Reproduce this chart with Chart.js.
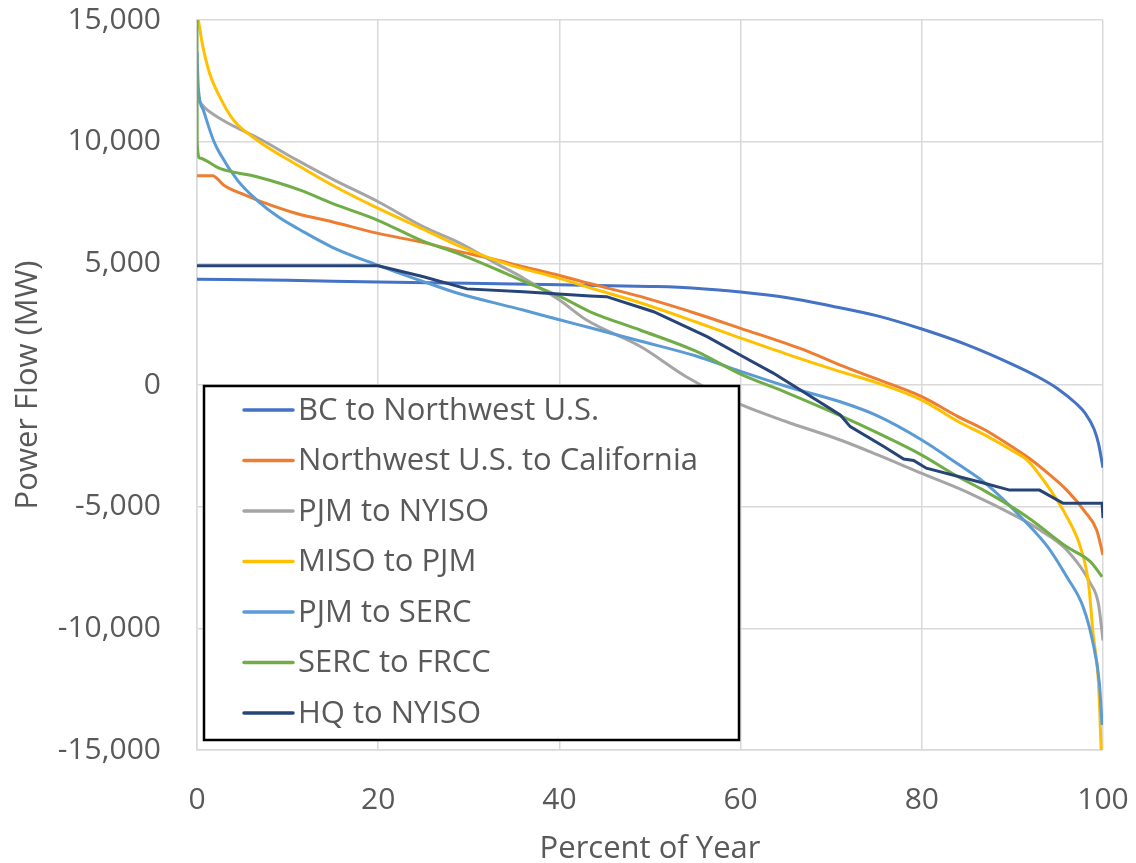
<!DOCTYPE html>
<html>
<head>
  <title>Interregional Power Flow Duration Curves</title>
  <script src="https://cdn.jsdelivr.net/npm/chart.js"></script>
  <style>
    body { margin: 0; background: #fff; }
    canvas { display: block; }
  </style>
</head>
<body>
  <canvas id="flowChart" width="1136" height="863"></canvas>

  <script>
    // Axis ticks
    const xTicks = [0, 20, 40, 60, 80, 100];
    const yTicks = [-15000, -10000, -5000, 0, 5000, 10000, 15000];

    // Series names and colours (legend order)
    const seriesNames = ['BC to Northwest U.S.', 'Northwest U.S. to California', 'PJM to NYISO',
      'MISO to PJM', 'PJM to SERC', 'SERC to FRCC', 'HQ to NYISO'];
    const seriesColors = ['#4472C4', '#ED7D31', '#A5A5A5', '#FFC000', '#5B9BD5', '#70AD47', '#264478'];

    // Duration curves: x = percent of year, y = power flow (MW)
    const bcX = [0, 10, 20, 30, 40, 50, 55, 60, 65, 70, 75, 80, 85, 90, 93, 95, 97, 98, 99, 99.5, 100];
    const bcY = [4350, 4300, 4230, 4180, 4120, 4050, 3980, 3820, 3600, 3250, 2850, 2300, 1650, 850, 300, -150, -750, -1150, -1800, -2400, -3400];

    const nwX = [0, 1.7, 3, 5, 7, 11, 15, 20, 25, 29, 33, 36, 40, 43, 49, 55, 60, 67, 71, 75, 80, 84, 87, 90, 92, 94, 96, 98, 99.3, 100];
    const nwY = [8600, 8600, 8200, 7850, 7550, 7050, 6700, 6230, 5850, 5480, 5150, 4860, 4500, 4200, 3630, 2950, 2330, 1440, 820, 250, -480, -1300, -1850, -2550, -3050, -3650, -4320, -5200, -5960, -6990];

    const pjmNyX = [0, 1, 3, 7, 11, 15, 20, 25, 29, 33, 36, 40, 43, 49, 54, 60, 65, 71, 75, 80, 85, 90.5, 93, 96, 98.6, 99.5, 100];
    const pjmNyY = [11750, 11350, 10850, 10100, 9250, 8450, 7530, 6500, 5830, 5000, 4400, 3490, 2670, 1570, 340, -800, -1500, -2260, -2850, -3630, -4400, -5410, -5950, -6780, -8140, -9000, -10500];

    const misoX = [0.15, 0.6, 1.4, 2.5, 4, 6.6, 11.4, 15, 20, 25, 28.7, 34, 40, 43.4, 49, 55, 60, 65, 71, 75, 80, 84, 87, 90, 91.6, 94.2, 96, 97.5, 98.4, 98.9, 99.5, 99.8];
    const misoY = [15000, 14000, 12800, 11850, 10900, 10070, 8970, 8200, 7260, 6400, 5750, 5000, 4380, 3990, 3370, 2600, 1930, 1280, 550, 100, -620, -1500, -2060, -2700, -3080, -4320, -5410, -6650, -8140, -10200, -12250, -15000];

    const pjmSercX = [0, 0.15, 0.7, 1.8, 2.5, 4.5, 6.6, 9, 11.4, 15, 19.9, 25, 28.7, 36, 40, 43.4, 49, 55, 60, 65, 71, 75, 80, 84, 87, 91.6, 94, 96, 97.8, 98.9, 99.6, 99.9];
    const pjmSercY = [13700, 12200, 11300, 10070, 9530, 8400, 7600, 6900, 6370, 5650, 4930, 4250, 3780, 3080, 2680, 2350, 1800, 1200, 560, -50, -690, -1250, -2260, -3250, -4030, -5680, -6700, -7880, -9110, -10610, -12250, -13970];

    const sercX = [0, 0.02, 0.3, 2.5, 6.6, 11.4, 15, 19.9, 25, 28.7, 34, 36, 40.1, 43.4, 48.9, 55, 60, 65, 71, 75, 80, 84, 86.8, 91.6, 96, 98.6, 99.9];
    const sercY = [15000, 9950, 9330, 8900, 8560, 8010, 7450, 6780, 5900, 5420, 4600, 4270, 3630, 3010, 2260, 1400, 450, -300, -1260, -1950, -2880, -3770, -4320, -5410, -6650, -7260, -7880];

    const hqX = [0, 20, 25, 29.8, 36, 43.4, 45.2, 50.4, 56.3, 60.3, 63.6, 67, 71, 72.1, 75.8, 78, 79.1, 80.5, 86.8, 89.7, 93, 95.6, 99.9, 100];
    const hqY = [4900, 4900, 4450, 3950, 3830, 3660, 3630, 3010, 1990, 1160, 490, -300, -1230, -1710, -2530, -3040, -3100, -3420, -4030, -4320, -4320, -4860, -4860, -5470];

    const seriesX = [bcX, nwX, pjmNyX, misoX, pjmSercX, sercX, hqX];
    const seriesY = [bcY, nwY, pjmNyY, misoY, pjmSercY, sercY, hqY];

    const fontFamily = "'Segoe UI', 'Open Sans', sans-serif";
    const textColor = '#595959';
    const gridColor = '#d9d9d9';

    const datasets = seriesNames.map((name, i) => ({
      label: name,
      data: seriesX[i].map((x, j) => ({ x: x, y: seriesY[i][j] })),
      borderColor: seriesColors[i],
      borderWidth: 3,
      pointRadius: 0,
      cubicInterpolationMode: name === 'HQ to NYISO' ? 'default' : 'monotone',
      tension: name === 'HQ to NYISO' ? 0 : 0.4,
      order: seriesNames.length - i   // later series drawn on top
    }));

    // Boxed legend drawn inside the plot area
    const boxedLegend = {
      id: 'boxedLegend',
      afterDraw(chart) {
        const ctx = chart.ctx;
        const left = 204, top = 386, right = 739, bottom = 740;
        ctx.save();
        ctx.fillStyle = '#fff';
        ctx.fillRect(left, top, right - left, bottom - top);
        ctx.lineWidth = 2.5;
        ctx.strokeStyle = '#000';
        ctx.strokeRect(left, top, right - left, bottom - top);
        ctx.font = '31px ' + fontFamily;
        ctx.textBaseline = 'middle';
        ctx.lineCap = 'round';
        chart.data.datasets.forEach((ds, i) => {
          const y = 410 + i * 50.5;
          ctx.strokeStyle = ds.borderColor;
          ctx.lineWidth = 3.5;
          ctx.beginPath();
          ctx.moveTo(244, y);
          ctx.lineTo(293, y);
          ctx.stroke();
          ctx.fillStyle = textColor;
          ctx.fillText(ds.label, 298, y + 1);
        });
        ctx.restore();
      }
    };

    const ctx = document.getElementById('flowChart').getContext('2d');
    new Chart(ctx, {
      type: 'line',
      data: { datasets: datasets },
      options: {
        responsive: false,
        animation: false,
        layout: { padding: { top: 20, right: 33, left: 0, bottom: 0 } },
        plugins: {
          legend: { display: false },
          tooltip: { enabled: false }
        },
        scales: {
          x: {
            type: 'linear',
            min: 0,
            max: 100,
            afterBuildTicks: axis => { axis.ticks = xTicks.map(v => ({ value: v })); },
            afterFit: axis => {
              axis.height = 113;
              axis.paddingLeft = 0;
              axis.paddingRight = 0;
            },
            grid: { color: gridColor, lineWidth: 1.5, drawTicks: false },
            border: { color: gridColor, width: 1.5 },
            ticks: { color: textColor, font: { family: fontFamily, size: 30 }, padding: 32 },
            title: {
              display: true,
              text: 'Percent of Year',
              color: textColor,
              font: { family: fontFamily, size: 31, lineHeight: 1 },
              padding: { top: 0, bottom: -2 }
            }
          },
          y: {
            min: -15000,
            max: 15000,
            afterBuildTicks: axis => { axis.ticks = yTicks.map(v => ({ value: v })); },
            afterFit: axis => {
              axis.width = 197;
              axis.paddingTop = 0;
              axis.paddingBottom = 0;
            },
            grid: { color: gridColor, lineWidth: 1.5, drawTicks: false },
            border: { color: gridColor, width: 1.5 },
            ticks: {
              color: textColor,
              font: { family: fontFamily, size: 30 },
              padding: 36,
              callback: v => v.toLocaleString('en-US')
            },
            title: {
              display: true,
              text: 'Power Flow (MW)',
              color: textColor,
              font: { family: fontFamily, size: 31, lineHeight: 1 },
              padding: { top: 13, bottom: 0 }
            }
          }
        }
      },
      plugins: [boxedLegend]
    });
  </script>
</body>
</html>
